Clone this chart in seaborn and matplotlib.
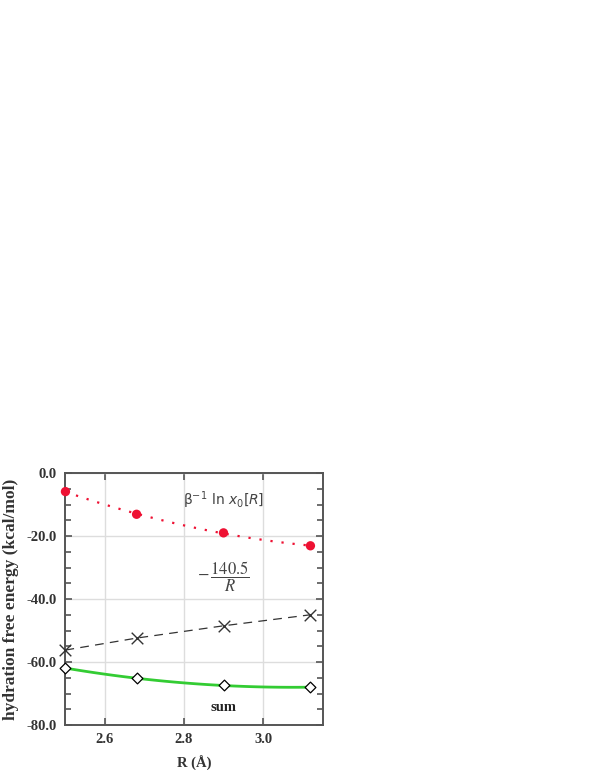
import matplotlib
matplotlib.use("Agg")
import matplotlib.pyplot as plt
import seaborn as sns
import numpy as np
import pandas as pd

# Data
R_vals = [2.50, 2.68, 2.90, 3.12]
ln_x0 = [-5.9, -13.1, -19.0, -23.1]
coulomb = [-56.2, -52.4, -48.5, -45.0]
total = [-61.9, -65.2, -67.4, -68.0]
y_ticks = [0, -20, -40, -60, -80]
y_tick_labels = ["0.0", "-20.0", "-40.0", "-60.0", "-80.0"]
x_ticks = [2.6, 2.8, 3.0]
x_tick_labels = ["2.6", "2.8", "3.0"]

df = pd.DataFrame({"R": R_vals, "lnx0": ln_x0, "coul": coulomb, "sum": total})

sns.set_theme(style="ticks")
plt.rcParams["font.family"] = ["DejaVu Sans"]

fig = plt.figure(figsize=(5.95, 7.7), dpi=100)
ax = fig.add_axes([0.110, 0.0584, 0.433, 0.3273])

red = "#ee1133"
green = "#33cc33"
dark = "#333333"

# red dotted curve + points
sns.regplot(data=df, x="R", y="lnx0", order=2, ci=None, scatter=False, truncate=True,
            line_kws=dict(color=red, lw=1.6, ls=(0, (1, 4.0)), zorder=2), ax=ax)
sns.scatterplot(data=df, x="R", y="lnx0", color=red, s=45, edgecolor="none", zorder=4,
                clip_on=False, ax=ax)

# dashed black
sns.lineplot(data=df, x="R", y="coul", color=dark, lw=0.9, ax=ax, zorder=3)
ax.lines[-1].set_dashes((7, 5))
sns.scatterplot(data=df, x="R", y="coul", marker="x", color=dark, s=70, linewidth=1.0,
                zorder=4, clip_on=False, ax=ax)

# green sum
sns.regplot(data=df, x="R", y="sum", order=2, ci=None, scatter=False, truncate=True,
            line_kws=dict(color=green, lw=2.0, zorder=2), ax=ax)
sns.scatterplot(data=df, x="R", y="sum", marker="D", color="white", edgecolor="black",
                linewidth=0.9, s=30, zorder=5, clip_on=False, ax=ax)

ax.set_xlim(2.5, 3.152)
ax.set_ylim(-80, 0)
ax.set_xticks(x_ticks)
ax.set_xticklabels(x_tick_labels)
ax.set_yticks(y_ticks)
ax.set_yticklabels(y_tick_labels)
ax.set_yticks(np.arange(-75, 0, 5), minor=True)

ax.grid(True, which="major", color="#dddddd", lw=1.0)
ax.set_axisbelow(True)

for s in ax.spines.values():
    s.set_visible(True)
    s.set_color("#555555")
    s.set_linewidth(1.4)

ax.tick_params(which="both", direction="in", top=True, right=True, color="#555555", width=1.2)
ax.tick_params(which="major", length=5, pad=6)
ax.tick_params(which="minor", length=4)

for lab in ax.get_xticklabels() + ax.get_yticklabels():
    lab.set_fontfamily("Liberation Serif")
    lab.set_fontweight("bold")
    lab.set_fontsize(10.5)
    lab.set_color("#333333")

ax.set_xlabel("R (Å)", fontfamily="Liberation Serif", fontweight="bold", fontsize=10.5,
              color="#333333", labelpad=7)
ax.set_ylabel("hydration free energy (kcal/mol)", fontfamily="Liberation Serif",
              fontweight="bold", fontsize=12.5, color="#333333", labelpad=6)

ax.text(2.90, -8.6, r"$\mathregular{\beta^{-1}}\ \mathregular{ln}\ x_{\mathregular{0}}[R]$",
        fontsize=10, color="#444444", ha="center", va="center")
ax.text(2.90, -32.9, r"$-\,\dfrac{140.5}{R}$", fontsize=12, color="#444444",
        ha="center", va="center", math_fontfamily="stix")
ax.text(2.90, -74.3, "sum", fontfamily="Liberation Serif", fontweight="bold",
        fontsize=10.5, color="#222222", ha="center", va="center")

fig.savefig("out.png", dpi=100)
